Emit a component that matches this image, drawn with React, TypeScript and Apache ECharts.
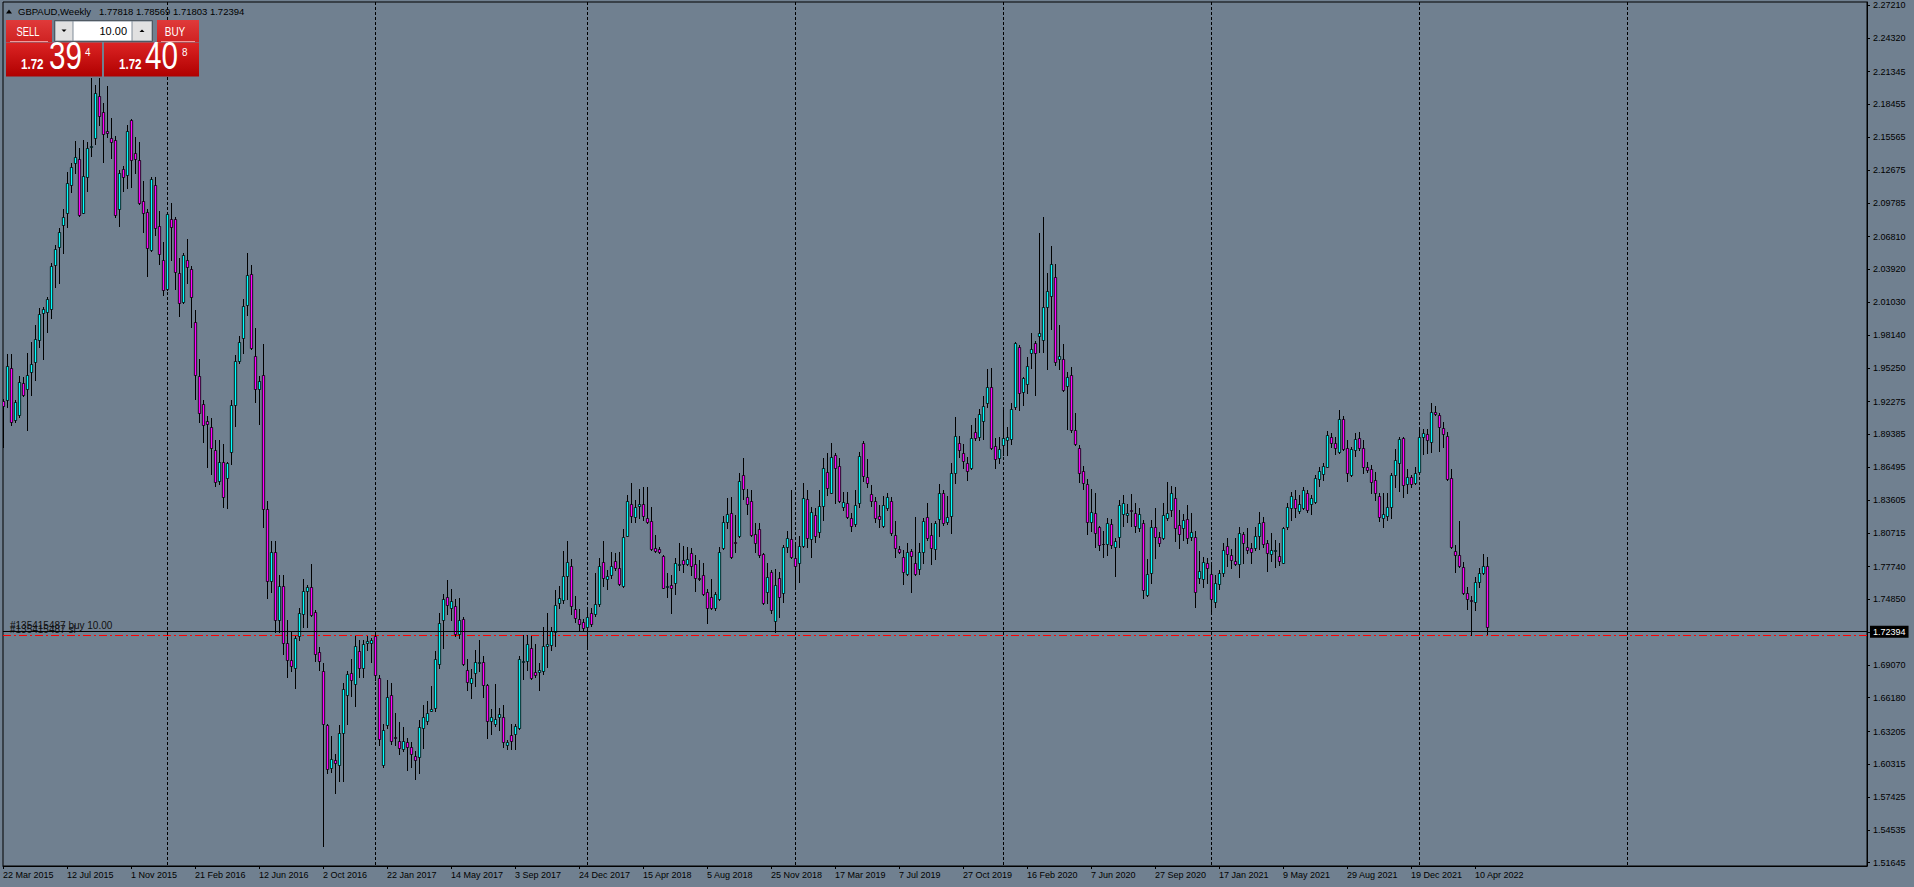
import React, { useEffect, useRef } from "react";
import * as echarts from "echarts";

// ---------- data ----------
const symbolTitle = "GBPAUD,Weekly";
const headerQuote = ["1.77818", "1.78569", "1.71803", "1.72394"];
const firstWeek = "2015-03-22";
const totalSlots = 467; // weekly bars + MT4 right chart shift
const labelEvery = 16;
const lastGridIndex = 440;

const yTicks = [
  2.2721, 2.2432, 2.21345, 2.18455, 2.15565, 2.12675, 2.09785, 2.0681, 2.0392,
  2.0103, 1.9814, 1.9525, 1.92275, 1.89385, 1.86495, 1.83605, 1.80715, 1.7774,
  1.7485, 1.7196, 1.6907, 1.6618, 1.63205, 1.60315, 1.57425, 1.54535, 1.51645,
];
const yMin = 1.51356;
const yMax = 2.27474;

const bidPrice = 1.72394;
const levelPrices = [1.72034, 1.71707];
const levelLabels = ["#135415487 buy 10.00", "#135415487 sl"];
const levelColors = ["#32CD32", "#FF0000"];
const lotSize = "10.00";
const sellQuote = ["1.72", "39", "4"];
const buyQuote = ["1.72", "40", "8"];

// [open, high, low, close]
const ohlc2015 = [
  [1.9235, 1.9247, 1.883, 1.9188], [1.9241, 1.9647, 1.9182, 1.9541], [1.952, 1.9647, 1.9021, 1.905],
  [1.9065, 1.9241, 1.905, 1.9221], [1.9109, 1.9453, 1.9094, 1.9403], [1.9394, 1.9447, 1.9276, 1.9285],
  [1.9335, 1.9652, 1.8977, 1.9459], [1.9491, 1.9755, 1.9285, 1.9558], [1.9576, 1.9902, 1.9417, 1.9776],
  [1.977, 2.0049, 1.9705, 1.9996], [2.0011, 2.0058, 1.96, 2.004], [2.0017, 2.0146, 1.9843, 2.0128],
  [2.004, 2.0445, 1.9961, 2.0419], [2.0431, 2.0607, 2.024, 2.0569], [2.0586, 2.0754, 2.0275, 2.0724],
  [2.078, 2.0921, 2.0534, 2.0851], [2.0886, 2.125, 2.0769, 2.1156], [2.1133, 2.1327, 2.1077, 2.1291],
  [2.1327, 2.1523, 2.1238, 2.1385], [2.1362, 2.1459, 2.0862, 2.0871], [2.0892, 2.1532, 2.0886, 2.1215],
  [2.1209, 2.1517, 2.1086, 2.1459], [2.147, 2.2075, 2.1391, 2.1476], [2.1547, 2.2017, 2.1497, 2.1943],
  [2.192, 2.2075, 2.1664, 2.1747], [2.1782, 2.1861, 2.1341, 2.1582], [2.1611, 2.2008, 2.1556, 2.1591],
  [2.1547, 2.1723, 2.1371, 2.1517], [2.1532, 2.1567, 2.0851, 2.0871], [2.0921, 2.1268, 2.0777, 2.1238],
  [2.1274, 2.1303, 2.1086, 2.1203], [2.1221, 2.1664, 2.1106, 2.1611], [2.1708, 2.1714, 2.1121, 2.1356],
  [2.1415, 2.1562, 2.1238, 2.1365], [2.1356, 2.1517, 2.0965, 2.098], [2.0995, 2.1174, 2.0724, 2.0886],
  [2.0895, 2.0921, 2.0334, 2.0578], [2.0563, 2.1203, 2.0557, 2.1189], [2.1136, 2.1203, 2.0695, 2.0754],
  [2.0774, 2.0909, 2.044, 2.0525], [2.0475, 2.0636, 2.0166, 2.0211],
];
const ohlc2016 = [
  [2.0216, 2.0901, 2.0211, 2.0877], [2.0833, 2.0974, 2.0475, 2.0769], [2.0836, 2.0851, 2.0216, 2.0366],
  [2.0357, 2.049, 1.9984, 2.0093], [2.0108, 2.0539, 2.0099, 2.0516], [2.0475, 2.066, 2.0269, 2.041],
  [2.0396, 2.0422, 1.9882, 2.0146], [1.9926, 2.0034, 1.9247, 1.9459], [1.9453, 1.9603, 1.905, 1.9124],
  [1.9203, 1.9241, 1.8874, 1.9021], [1.9056, 1.91, 1.8648, 1.9027], [1.9, 1.908, 1.8589, 1.8815],
  [1.8801, 1.8889, 1.8484, 1.8516], [1.8531, 1.8889, 1.8501, 1.8698], [1.8698, 1.8854, 1.8301, 1.8384],
  [1.8551, 1.8698, 1.8287, 1.8689], [1.8786, 1.9241, 1.8677, 1.9197], [1.9197, 1.9638, 1.9012, 1.9585],
  [1.9588, 1.9805, 1.9564, 1.9749], [1.9785, 2.0128, 1.9652, 2.007], [2.0078, 2.0534, 1.999, 2.0343],
  [2.0351, 2.0431, 1.9688, 1.9696], [1.9629, 1.9879, 1.9227, 1.9335], [1.9335, 1.9453, 1.903, 1.9409],
  [1.9462, 1.9735, 1.812, 1.8278], [1.8278, 1.835, 1.75, 1.765], [1.765, 1.8, 1.755, 1.79],
  [1.79, 1.8, 1.72, 1.73], [1.73, 1.77, 1.72, 1.76], [1.76, 1.77, 1.7, 1.71],
  [1.71, 1.73, 1.68, 1.695], [1.695, 1.72, 1.685, 1.69], [1.6882, 1.7158, 1.6703, 1.7141],
  [1.7165, 1.7411, 1.7131, 1.7361], [1.7354, 1.7664, 1.7243, 1.7556], [1.7556, 1.7613, 1.7243, 1.7597],
  [1.759, 1.7792, 1.7334, 1.7344], [1.7377, 1.7388, 1.6939, 1.7007], [1.7024, 1.7067, 1.6865, 1.6939],
  [1.6855, 1.6922, 1.5311, 1.6383], [1.6376, 1.6383, 1.5951, 1.5989], [1.5995, 1.6282, 1.5962, 1.608],
  [1.607, 1.612, 1.5783, 1.6039], [1.6029, 1.6376, 1.5884, 1.6305], [1.6305, 1.6747, 1.5884, 1.6693],
  [1.6646, 1.6855, 1.639, 1.6828], [1.6838, 1.6956, 1.6636, 1.6777], [1.6737, 1.7158, 1.6545, 1.7074],
  [1.703, 1.7125, 1.6804, 1.6879], [1.6879, 1.7131, 1.6804, 1.7091], [1.7098, 1.7158, 1.704, 1.7118],
  [1.7098, 1.7141, 1.6929, 1.7131],
];
const ohlc2017 = [
  [1.7158, 1.7199, 1.6771, 1.6821], [1.6788, 1.6815, 1.6198, 1.6255], [1.6029, 1.6383, 1.6012, 1.6332],
  [1.6376, 1.6771, 1.6349, 1.6626], [1.6643, 1.6744, 1.6214, 1.6241], [1.6268, 1.6484, 1.6198, 1.6262],
  [1.6241, 1.64, 1.612, 1.6174], [1.6164, 1.6356, 1.6147, 1.6241], [1.6225, 1.6265, 1.5985, 1.6181],
  [1.6181, 1.6231, 1.6005, 1.612], [1.6107, 1.6147, 1.5904, 1.6073], [1.6097, 1.6423, 1.5951, 1.6356],
  [1.6349, 1.6558, 1.6174, 1.6444], [1.6417, 1.6585, 1.6383, 1.6484], [1.6504, 1.672, 1.6501, 1.6518],
  [1.6525, 1.703, 1.6501, 1.6963], [1.6912, 1.7361, 1.6882, 1.7276], [1.73, 1.7536, 1.7057, 1.7489],
  [1.7502, 1.7657, 1.7354, 1.7435], [1.7411, 1.758, 1.73, 1.7468], [1.7428, 1.7489, 1.7165, 1.7182],
  [1.7182, 1.7495, 1.7141, 1.73], [1.731, 1.7327, 1.6906, 1.6912], [1.6862, 1.6956, 1.6686, 1.6761],
  [1.6747, 1.6872, 1.6612, 1.6794], [1.6838, 1.704, 1.672, 1.6929], [1.6926, 1.7125, 1.6855, 1.6932],
  [1.6929, 1.6983, 1.6626, 1.6727], [1.6727, 1.6737, 1.6265, 1.641], [1.6417, 1.6518, 1.6299, 1.6444],
  [1.6383, 1.6737, 1.6366, 1.6434], [1.645, 1.6525, 1.6332, 1.6477], [1.645, 1.6551, 1.6181, 1.6231],
  [1.6198, 1.6248, 1.6164, 1.6231], [1.6289, 1.6383, 1.6164, 1.6241], [1.6299, 1.639, 1.6164, 1.6366],
  [1.6349, 1.699, 1.6342, 1.6963], [1.6936, 1.7175, 1.6781, 1.6943], [1.6939, 1.7175, 1.6862, 1.7091],
  [1.7057, 1.7165, 1.6781, 1.6788], [1.6848, 1.7091, 1.6804, 1.6821], [1.6841, 1.6922, 1.6686, 1.6862],
  [1.6855, 1.7243, 1.6828, 1.7074], [1.7074, 1.7361, 1.6889, 1.7091], [1.7084, 1.7243, 1.704, 1.7209],
  [1.7199, 1.757, 1.7074, 1.7435], [1.7455, 1.7603, 1.7411, 1.7495], [1.7479, 1.7907, 1.7455, 1.7691],
  [1.7691, 1.8001, 1.7489, 1.7816], [1.7782, 1.7839, 1.7354, 1.7428], [1.7401, 1.7512, 1.7286, 1.732],
  [1.731, 1.7401, 1.7219, 1.7266], [1.7286, 1.731, 1.7209, 1.7232],
];
const ohlc2018 = [
  [1.7243, 1.7411, 1.7074, 1.7327], [1.7361, 1.7411, 1.7253, 1.7266], [1.7354, 1.7714, 1.7334, 1.7445],
  [1.7445, 1.7849, 1.7428, 1.7782], [1.7816, 1.8001, 1.7603, 1.7671], [1.7661, 1.7744, 1.7573, 1.7691],
  [1.77, 1.7905, 1.767, 1.7779], [1.7826, 1.7896, 1.7744, 1.7758], [1.7758, 1.7905, 1.7611, 1.7617],
  [1.7606, 1.8102, 1.7597, 1.8037], [1.8046, 1.8404, 1.8043, 1.8354], [1.8322, 1.8507, 1.8169, 1.8219],
  [1.8208, 1.836, 1.8169, 1.8296], [1.8307, 1.8454, 1.8199, 1.8325], [1.8322, 1.8478, 1.8184, 1.8219],
  [1.8199, 1.8478, 1.8161, 1.8169], [1.8175, 1.8302, 1.792, 1.7926], [1.7934, 1.8052, 1.7905, 1.7914],
  [1.7926, 1.7943, 1.7896, 1.7899], [1.787, 1.7876, 1.7582, 1.7588], [1.7594, 1.7714, 1.7509, 1.76],
  [1.7611, 1.77, 1.7368, 1.7588], [1.7632, 1.7846, 1.7532, 1.7802], [1.7791, 1.7979, 1.7744, 1.7796],
  [1.7832, 1.7955, 1.7729, 1.7796], [1.7794, 1.7943, 1.7788, 1.7841], [1.789, 1.7934, 1.77, 1.7779],
  [1.7794, 1.7876, 1.7561, 1.7676], [1.767, 1.7832, 1.7656, 1.7664], [1.77, 1.7808, 1.7523, 1.7532],
  [1.7553, 1.7573, 1.728, 1.7412], [1.7503, 1.7661, 1.74, 1.7406], [1.7406, 1.7553, 1.7391, 1.7529],
  [1.7485, 1.7949, 1.7479, 1.7899], [1.7934, 1.8219, 1.7926, 1.8164], [1.8164, 1.8375, 1.8111, 1.8237],
  [1.8249, 1.8384, 1.7846, 1.7855], [1.7987, 1.8228, 1.7905, 1.7982], [1.8043, 1.8595, 1.8031, 1.8531],
  [1.8581, 1.8727, 1.8366, 1.8454], [1.8384, 1.8454, 1.8237, 1.8325], [1.8354, 1.8448, 1.8043, 1.8052],
  [1.8058, 1.8155, 1.7905, 1.7984], [1.8102, 1.8155, 1.7861, 1.7876], [1.7882, 1.789, 1.7444, 1.745],
  [1.7547, 1.7808, 1.745, 1.7679], [1.7723, 1.7744, 1.7362, 1.7391], [1.7294, 1.7749, 1.72, 1.7611],
  [1.767, 1.7729, 1.7332, 1.7503], [1.7544, 1.7964, 1.7465, 1.7943], [1.7949, 1.809, 1.7905, 1.8023],
  [1.8014, 1.8448, 1.7846, 1.7855],
];
const ohlc2019 = [
  [1.7846, 1.7964, 1.7597, 1.7779], [1.7808, 1.8043, 1.7641, 1.7955], [1.7955, 1.8513, 1.7949, 1.8375],
  [1.8366, 1.8448, 1.7949, 1.8028], [1.8014, 1.8302, 1.7861, 1.8258], [1.8228, 1.8287, 1.7993, 1.8043],
  [1.8075, 1.8448, 1.8031, 1.8307], [1.8307, 1.8727, 1.8184, 1.8639], [1.8604, 1.8777, 1.8404, 1.8463],
  [1.8425, 1.886, 1.8419, 1.8736], [1.8757, 1.8772, 1.8337, 1.8639], [1.866, 1.8727, 1.8346, 1.8354],
  [1.8296, 1.8434, 1.8272, 1.8346], [1.8331, 1.8434, 1.8199, 1.8208], [1.8199, 1.8249, 1.809, 1.8131],
  [1.8146, 1.8448, 1.8131, 1.8316], [1.8331, 1.8786, 1.8302, 1.8748], [1.886, 1.888, 1.8531, 1.8572],
  [1.8566, 1.8719, 1.8478, 1.8507], [1.841, 1.8493, 1.8307, 1.8352], [1.8352, 1.8384, 1.8169, 1.8199],
  [1.8219, 1.8316, 1.8119, 1.819], [1.8134, 1.8396, 1.8119, 1.8316], [1.8287, 1.8425, 1.8272, 1.8384],
  [1.8352, 1.8384, 1.8052, 1.8072], [1.8052, 1.8178, 1.7855, 1.7934], [1.7929, 1.7955, 1.789, 1.7905],
  [1.7861, 1.792, 1.762, 1.7729], [1.7708, 1.7984, 1.7699, 1.7905], [1.7913, 1.7925, 1.7552, 1.7866],
  [1.7808, 1.8207, 1.7699, 1.7708], [1.7749, 1.7978, 1.7708, 1.7905], [1.7899, 1.8198, 1.7802, 1.8178],
  [1.8213, 1.833, 1.8007, 1.8022], [1.8051, 1.8154, 1.7796, 1.7934], [1.7925, 1.8178, 1.7837, 1.816],
  [1.8189, 1.8501, 1.8043, 1.8424], [1.8419, 1.8448, 1.814, 1.8154], [1.8163, 1.8395, 1.8148, 1.8207],
  [1.8219, 1.8689, 1.8072, 1.8601], [1.8595, 1.9088, 1.8513, 1.8927], [1.8859, 1.8924, 1.8736, 1.88],
  [1.8777, 1.8853, 1.8639, 1.8706], [1.8683, 1.8742, 1.8536, 1.8618], [1.8645, 1.9021, 1.863, 1.8909],
  [1.8956, 1.9079, 1.8888, 1.8903], [1.8918, 1.9159, 1.8888, 1.9115], [1.9059, 1.9276, 1.8894, 1.9191],
  [1.9217, 1.9511, 1.9182, 1.9358], [1.9358, 1.952, 1.8806, 1.8821], [1.8838, 1.8903, 1.8639, 1.8718],
  [1.8727, 1.8918, 1.8689, 1.8806],
];
const ohlc2020 = [
  [1.8844, 1.9153, 1.8756, 1.8909], [1.8888, 1.9006, 1.8756, 1.8912], [1.8894, 1.9217, 1.8853, 1.9159],
  [1.9182, 1.9755, 1.9159, 1.974], [1.9711, 1.9726, 1.9153, 1.93], [1.9314, 1.9447, 1.9197, 1.9432],
  [1.9382, 1.9623, 1.9306, 1.954], [1.9652, 1.9828, 1.952, 1.9687], [1.974, 1.9764, 1.9285, 1.9652],
  [1.9808, 2.0715, 1.9667, 1.9834], [1.977, 2.085, 1.9667, 2.0063], [2.0063, 2.0357, 1.9511, 2.0201],
  [2.0157, 2.0598, 1.9864, 2.0436], [2.0328, 2.0439, 1.9549, 1.9573], [1.9599, 1.9902, 1.9511, 1.9632],
  [1.9599, 1.9734, 1.9323, 1.9329], [1.9364, 1.9491, 1.8982, 1.9447], [1.9461, 1.9529, 1.8962, 1.8977],
  [1.8977, 1.9123, 1.8844, 1.8853], [1.8815, 1.8844, 1.8521, 1.8595], [1.8618, 1.8659, 1.8454, 1.8507],
  [1.8498, 1.8542, 1.806, 1.8169], [1.8169, 1.8454, 1.809, 1.8257], [1.8248, 1.8419, 1.7943, 1.8066],
  [1.8119, 1.8131, 1.7919, 1.7963], [1.7975, 1.809, 1.7861, 1.7969], [1.7969, 1.8198, 1.7875, 1.816],
  [1.8146, 1.8189, 1.7934, 1.7963], [1.7949, 1.8022, 1.7693, 1.8002], [1.8031, 1.836, 1.7949, 1.8316],
  [1.8236, 1.8404, 1.8131, 1.833], [1.8228, 1.8325, 1.8169, 1.8248], [1.8269, 1.8413, 1.8131, 1.8263],
  [1.8242, 1.833, 1.8081, 1.8131], [1.811, 1.8286, 1.809, 1.8236], [1.816, 1.8184, 1.7493, 1.7567],
  [1.7523, 1.7837, 1.7514, 1.7705], [1.772, 1.8184, 1.7631, 1.8119], [1.8119, 1.8286, 1.7846, 1.8037],
  [1.8031, 1.8081, 1.7955, 1.7984], [1.8022, 1.833, 1.8013, 1.8228], [1.8198, 1.8521, 1.8184, 1.8248],
  [1.8272, 1.8483, 1.8219, 1.8419], [1.8375, 1.8477, 1.8002, 1.811], [1.814, 1.8272, 1.7934, 1.806],
  [1.811, 1.8237, 1.8007, 1.8184], [1.8189, 1.8316, 1.7984, 1.8022], [1.8037, 1.8248, 1.8007, 1.8078],
  [1.8031, 1.809, 1.742, 1.7552], [1.767, 1.7913, 1.7626, 1.7737], [1.7661, 1.7861, 1.759, 1.7817],
  [1.7808, 1.7846, 1.7626, 1.7758],
];
const ohlc2021 = [
  [1.7708, 1.7796, 1.7385, 1.7485], [1.7464, 1.7699, 1.742, 1.7626], [1.7617, 1.7743, 1.7573, 1.772],
  [1.772, 1.7978, 1.769, 1.7919], [1.7954, 1.8022, 1.7778, 1.7881], [1.7875, 1.7925, 1.7758, 1.7831],
  [1.7825, 1.8022, 1.7787, 1.7793], [1.7793, 1.8119, 1.7684, 1.8066], [1.8057, 1.8081, 1.7808, 1.7984],
  [1.7943, 1.811, 1.789, 1.7919], [1.7934, 1.7978, 1.7808, 1.7905], [1.794, 1.8119, 1.7919, 1.8043],
  [1.8043, 1.8257, 1.7925, 1.8154], [1.8163, 1.8213, 1.7949, 1.7972], [1.7978, 1.8007, 1.7737, 1.789],
  [1.7884, 1.8066, 1.7825, 1.7919], [1.791, 1.8007, 1.7772, 1.7916], [1.7869, 1.7978, 1.7787, 1.7825],
  [1.7808, 1.8119, 1.7802, 1.811], [1.8125, 1.833, 1.8101, 1.8301], [1.8286, 1.8433, 1.8184, 1.8398],
  [1.8366, 1.8448, 1.8207, 1.8286], [1.8266, 1.8404, 1.8248, 1.8322], [1.8286, 1.8477, 1.8278, 1.8448],
  [1.8419, 1.8448, 1.8257, 1.8272], [1.8325, 1.8404, 1.8236, 1.8374], [1.8345, 1.858, 1.8336, 1.8551],
  [1.8542, 1.8654, 1.8483, 1.8615], [1.8589, 1.8689, 1.8536, 1.8659], [1.8654, 1.8971, 1.8648, 1.8932],
  [1.8912, 1.8953, 1.8824, 1.8859], [1.8859, 1.8918, 1.8765, 1.8815], [1.8786, 1.9153, 1.8777, 1.9071],
  [1.9071, 1.91, 1.88, 1.8806], [1.8815, 1.8888, 1.853, 1.8601], [1.858, 1.883, 1.8571, 1.8806],
  [1.88, 1.8953, 1.8747, 1.8894], [1.8903, 1.8962, 1.88, 1.8815], [1.8815, 1.8888, 1.8595, 1.8648],
  [1.8648, 1.8698, 1.8609, 1.8624], [1.863, 1.8668, 1.8419, 1.8521], [1.8536, 1.8609, 1.836, 1.8424],
  [1.8395, 1.8424, 1.8178, 1.8207], [1.8198, 1.8424, 1.8125, 1.8236], [1.8219, 1.8424, 1.8184, 1.8295],
  [1.8295, 1.8595, 1.8198, 1.858], [1.858, 1.8806, 1.8471, 1.8712], [1.8689, 1.8918, 1.8442, 1.8894],
  [1.8903, 1.8918, 1.8383, 1.8492], [1.8501, 1.863, 1.8419, 1.8565], [1.856, 1.858, 1.8471, 1.8501],
  [1.8507, 1.8654, 1.8501, 1.8595],
];
const ohlc2022 = [
  [1.8609, 1.8991, 1.8601, 1.8918], [1.8912, 1.8982, 1.8765, 1.8947], [1.8938, 1.8982, 1.8777, 1.8888],
  [1.8874, 1.9217, 1.8786, 1.9138], [1.9138, 1.9188, 1.9109, 1.9118], [1.9109, 1.9129, 1.8794, 1.9],
  [1.8991, 1.905, 1.8824, 1.8941], [1.8927, 1.8962, 1.8536, 1.8542], [1.8551, 1.863, 1.7934, 1.7943],
  [1.7913, 1.7963, 1.7728, 1.7875], [1.7875, 1.8178, 1.7772, 1.7778], [1.7767, 1.7817, 1.7532, 1.7537],
  [1.7543, 1.7596, 1.7396, 1.7485], [1.7476, 1.7514, 1.7171, 1.747], [1.7464, 1.7679, 1.7391, 1.764],
  [1.764, 1.7758, 1.7596, 1.772], [1.772, 1.7884, 1.7708, 1.7782], [1.77818, 1.78569, 1.71803, 1.72394],
];

// ---------- helpers ----------
const MONTHS = ["Jan", "Feb", "Mar", "Apr", "May", "Jun", "Jul", "Aug", "Sep", "Oct", "Nov", "Dec"];
function buildWeeks(start: string, n: number): string[] {
  const t0 = Date.parse(start + "T00:00:00Z");
  const out: string[] = [];
  for (let i = 0; i < n; i++) {
    const d = new Date(t0 + i * 7 * 86400000);
    out.push(`${d.getUTCDate()} ${MONTHS[d.getUTCMonth()]} ${d.getUTCFullYear()}`);
  }
  return out;
}

const FONT = '"Liberation Sans", Arial, sans-serif';
const BG = "#708090";
const UP = "#00FFFF";
const DOWN = "#FF00FF";

export default function App() {
  const ref = useRef<HTMLDivElement | null>(null);

  useEffect(() => {
    document.body.style.margin = "0";
    document.body.style.background = BG;
    if (!ref.current) return;
    const chart = echarts.init(ref.current, null, { renderer: "svg" });

    const bars = [
      ...ohlc2015, ...ohlc2016, ...ohlc2017, ...ohlc2018,
      ...ohlc2019, ...ohlc2020, ...ohlc2021, ...ohlc2022,
    ];
    const nBars = bars.length;
    const categories = buildWeeks(firstWeek, totalSlots);
    const yearOf = (s: string) => s.slice(-4);
    const yearStart = categories.map(
      (c, i) => i > 0 && i < lastGridIndex && yearOf(c) !== yearOf(categories[i - 1])
    );
    const candleData = bars.map(([o, h, l, c], i) => [i, o, c, l, h]);
    const levelData = levelPrices.map((p, i) => [i, p]);
    const showLabel = (i: number) => i % labelEvery === 0 && i < nBars;

    const redGrad = (a: string, b: string) =>
      new echarts.graphic.LinearGradient(0, 0, 0, 1, [
        { offset: 0, color: a },
        { offset: 1, color: b },
      ]);
    const txt = (x: number, y: number, text: string, size: number, opts: any = {}) => ({
      type: "text",
      x,
      y,
      scaleX: opts.scaleX ?? 1,
      z: 120,
      style: {
        text,
        fill: opts.fill ?? "#fff",
        font: `${opts.bold ? "bold " : ""}${size}px ${FONT}`,
        align: opts.align ?? "left",
        textAlign: opts.align ?? "left",
        verticalAlign: "middle",
        textVerticalAlign: "middle",
      },
    });

    const renderCandle = (params: any, api: any) => {
      const i = api.value(0);
      const o = api.value(1);
      const c = api.value(2);
      const l = api.value(3);
      const h = api.value(4);
      const po = api.coord([i, o]);
      const pc = api.coord([i, c]);
      const pl = api.coord([i, l]);
      const ph = api.coord([i, h]);
      const cx = Math.round(po[0]) + 0.5;
      const top = Math.round(Math.min(po[1], pc[1]));
      const bot = Math.round(Math.max(po[1], pc[1]));
      return {
        type: "group",
        children: [
          {
            type: "line",
            shape: { x1: cx, y1: Math.round(ph[1]), x2: cx, y2: Math.round(pl[1]) + 1 },
            style: { stroke: "#000", lineWidth: 1 },
          },
          {
            type: "rect",
            shape: { x: cx - 1.15, y: top + 0.5, width: 2.3, height: Math.max(bot - top, 0) },
            style: { fill: c >= o ? UP : DOWN, stroke: "#000", lineWidth: 0.8 },
          },
        ],
      };
    };

    const renderLevel = (params: any, api: any) => {
      const k = api.value(0);
      const p = api.value(1);
      const cs = params.coordSys;
      const y = Math.round(api.coord([0, p])[1]) + 0.5;
      return {
        type: "group",
        children: [
          {
            type: "line",
            shape: { x1: cs.x, y1: y, x2: cs.x + cs.width, y2: y },
            style: { stroke: levelColors[k], lineWidth: 1, lineDash: [8, 3, 2, 3] },
          },
          {
            type: "text",
            x: cs.x + 7,
            y: y - 1.5,
            style: {
              text: levelLabels[k],
              fill: "#111",
              font: `10px ${FONT}`,
              align: "left",
              textAlign: "left",
              verticalAlign: "bottom",
              textVerticalAlign: "bottom",
            },
          },
        ],
      };
    };

    const option: any = {
      animation: false,
      backgroundColor: BG,
      textStyle: { fontFamily: FONT },
      grid: {
        left: 3,
        right: 47,
        top: 2,
        bottom: 21,
        show: true,
        borderColor: "#000",
        borderWidth: 1,
        backgroundColor: "transparent",
      },
      xAxis: {
        type: "category",
        data: categories,
        boundaryGap: false,
        axisLine: { show: true, lineStyle: { color: "#000", width: 1 } },
        axisTick: {
          show: true,
          interval: (i: number) => showLabel(i),
          length: 3,
          lineStyle: { color: "#000" },
        },
        axisLabel: {
          show: true,
          interval: (i: number) => showLabel(i),
          align: "left",
          margin: 4,
          color: "#000",
          fontSize: 9,
          fontFamily: FONT,
        },
        splitLine: {
          show: true,
          interval: (i: number) => yearStart[i],
          lineStyle: { color: "#000", type: [3, 2], width: 1 },
        },
      },
      yAxis: {
        type: "value",
        position: "right",
        min: yMin,
        max: yMax,
        axisLine: { show: true, lineStyle: { color: "#000", width: 1 } },
        axisTick: { show: true, length: 3, customValues: yTicks, lineStyle: { color: "#000" } },
        axisLabel: {
          show: true,
          customValues: yTicks,
          formatter: (v: number) => v.toFixed(5),
          color: "#000",
          fontSize: 9,
          fontFamily: FONT,
          margin: 6,
        },
        splitLine: { show: false },
      },
      series: [
        {
          type: "custom",
          name: "levels",
          data: levelData,
          encode: { x: 0, y: 1 },
          clip: false,
          silent: true,
          z: 1,
          renderItem: renderLevel,
        },
        {
          type: "custom",
          name: "GBPAUD",
          data: candleData,
          encode: { x: 0, y: [1, 2, 3, 4] },
          clip: true,
          silent: true,
          z: 2,
          renderItem: renderCandle,
          markLine: {
            silent: true,
            symbol: ["none", "none"],
            animation: false,
            data: [
              {
                yAxis: bidPrice,
                lineStyle: { color: "#000", type: "solid", width: 1 },
                label: {
                  show: true,
                  position: "end",
                  formatter: bidPrice.toFixed(5),
                  backgroundColor: "#000",
                  color: "#fff",
                  padding: [2, 3, 1, 3],
                  fontSize: 9,
                  fontFamily: FONT,
                  distance: 3,
                },
              },
            ],
          },
        },
      ],
      graphic: [
        // header
        { type: "polygon", z: 100, shape: { points: [[6, 13.5], [12, 13.5], [9, 9.5]] }, style: { fill: "#000" } },
        txt(18, 11, symbolTitle, 9.5, { fill: "#000" }),
        txt(99, 11, headerQuote.join(" "), 9.5, { fill: "#000" }),
        // SELL button
        { type: "rect", z: 100, shape: { x: 6, y: 20, width: 46, height: 22 }, style: { fill: redGrad("#e03a3a", "#cf2222") } },
        { type: "line", z: 101, shape: { x1: 10, y1: 41.5, x2: 48, y2: 41.5 }, style: { stroke: "#f29a9a", lineWidth: 1 } },
        txt(28, 31, "SELL", 13, { scaleX: 0.72, align: "center" }),
        // spinner
        { type: "rect", z: 100, shape: { x: 54.5, y: 20.5, width: 98, height: 21 }, style: { fill: "#808c98", stroke: "#4f5962", lineWidth: 1 } },
        { type: "rect", z: 101, shape: { x: 55.5, y: 21.5, width: 17, height: 19 }, style: { fill: "#e1e1e1" } },
        { type: "rect", z: 101, shape: { x: 73.5, y: 21.5, width: 58, height: 19 }, style: { fill: "#ffffff" } },
        { type: "rect", z: 101, shape: { x: 132.5, y: 21.5, width: 19, height: 19 }, style: { fill: "#e1e1e1" } },
        { type: "polygon", z: 102, shape: { points: [[61.5, 29.5], [66.5, 29.5], [64, 32]] }, style: { fill: "#000" } },
        { type: "polygon", z: 102, shape: { points: [[139.5, 32], [144.5, 32], [142, 29.5]] }, style: { fill: "#000" } },
        txt(127, 30.5, lotSize, 11, { fill: "#000", align: "right" }),
        // BUY button
        { type: "rect", z: 100, shape: { x: 157, y: 20, width: 42, height: 22 }, style: { fill: redGrad("#e03a3a", "#cf2222") } },
        { type: "line", z: 101, shape: { x1: 161, y1: 41.5, x2: 195, y2: 41.5 }, style: { stroke: "#f29a9a", lineWidth: 1 } },
        txt(175, 31, "BUY", 13, { scaleX: 0.77, align: "center" }),
        // price boxes
        { type: "rect", z: 100, shape: { x: 6, y: 42.5, width: 96, height: 34 }, style: { fill: redGrad("#dc2424", "#b00000") } },
        { type: "rect", z: 100, shape: { x: 104, y: 42.5, width: 95, height: 34 }, style: { fill: redGrad("#dc2424", "#b00000") } },
        txt(21, 64.5, sellQuote[0], 14.5, { bold: true, scaleX: 0.8 }),
        txt(49, 56, sellQuote[1], 38, { scaleX: 0.78 }),
        txt(85, 52, sellQuote[2], 11, { scaleX: 0.9 }),
        txt(119, 64.5, buyQuote[0], 14.5, { bold: true, scaleX: 0.8 }),
        txt(145, 56, buyQuote[1], 38, { scaleX: 0.78 }),
        txt(182, 52, buyQuote[2], 11, { scaleX: 0.9 }),
      ],
    };

    chart.setOption(option);
    return () => chart.dispose();
  }, []);

  return <div ref={ref} style={{ width: 1914, height: 887, background: BG }} />;
}
